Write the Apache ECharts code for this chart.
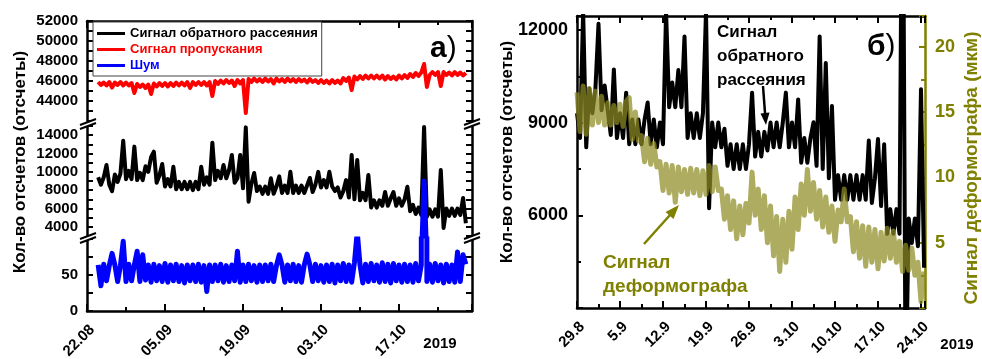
<!DOCTYPE html>
<html>
<head>
<meta charset="utf-8">
<script src="https://cdn.jsdelivr.net/npm/echarts@6/dist/echarts.min.js"></script>
<style>
html, body { margin: 0; padding: 0; background: #fff; }
#chart { width: 982px; height: 359px; }
</style>
</head>
<body>
<div id="chart"></div>
<script>
// ---- данные ----
// левая панель: отсчёты каждые 0.5 сут., начиная с 2 сут. после 22.08
var leftStartDay = 2;
var leftStep = 0.5;
var leftDateLabels = ['22.08', '05.09', '19.09', '03.10', '17.10'];

// Сигнал пропускания
var transmission = [
    45900, 45600, 45850, 45550, 45900, 45350, 45850, 45600, 45900, 45550,
    45850, 45550, 45800, 44800, 45700, 45400, 45650, 45300, 45650, 44700,
    45750, 45450, 45800, 45500, 45800, 45450, 45800, 45500, 45850, 45550,
    45850, 45550, 45900, 45300, 45900, 45600, 45900, 45600, 45900, 45550,
    45900, 44500, 46000, 45700, 46050, 45750, 46100, 45800, 46050, 45500,
    46100, 45750, 46100, 42800, 46200, 45900, 46250, 45950, 46200, 45900,
    46250, 45950, 46200, 45750, 46250, 45950, 46200, 45900, 46250, 45950,
    46200, 45900, 46200, 45950, 46150, 45850, 46200, 45900, 46100, 45800,
    46100, 45800, 46050, 45750, 46100, 45800, 46050, 45750, 46300, 46000,
    46350, 45100, 46450, 46150, 46500, 46200, 46550, 46250, 46550, 46250,
    46550, 46250, 46550, 46150, 46500, 46200, 46450, 46150, 46550, 46250,
    46600, 46300, 46700, 46400, 46800, 46500, 46850, 47700, 45400, 46600,
    46900, 46600, 46900, 45500, 46900, 46600, 46850, 46550, 46900, 46600,
    46850, 46550, 46800
];

// Сигнал обратного рассеяния
var backscatter = [
    9400, 8600, 9400, 10750, 8600, 7900, 9700, 8900, 9800, 13400,
    9200, 10100, 9200, 12750, 9100, 9900, 9100, 10600, 10000, 11600,
    12200, 8800, 9600, 10850, 8400, 9200, 8400, 10560, 8100, 8900,
    8100, 8900, 8100, 8900, 8000, 8900, 8100, 10560, 8600, 9400,
    8600, 13180, 9100, 10100, 9300, 10750, 9300, 10200, 11840, 8800,
    9300, 11840, 8200, 14850, 6740, 8700, 9870, 7900, 8400, 7600,
    8400, 7600, 9300, 7600, 8400, 9500, 7700, 8500, 7700, 10000,
    7700, 8500, 7700, 8500, 7700, 8500, 9330, 7800, 8600, 10000,
    8300, 9100, 8300, 10000, 8400, 7900, 8300, 7200, 7900, 9100,
    7200, 11840, 7000, 11300, 6900, 7700, 6900, 9650, 6100, 6900,
    6100, 6900, 6300, 7800, 6300, 7100, 7800, 6300, 7100, 6300,
    7000, 8380, 5700, 6400, 5400, 6100, 5300, 14900, 5100, 5900,
    5100, 5900, 5100, 10200, 3870, 6000, 5200, 6000, 5200, 6000,
    5300, 7150, 4400
];

// Шум
var noise = [
    64, 35, 65, 42, 63, 80, 64, 41, 63, 97,
    41, 65, 42, 64, 83, 41, 78, 43, 64, 40,
    65, 42, 63, 41, 66, 40, 64, 42, 65, 41,
    63, 39, 64, 42, 64, 41, 65, 40, 63, 27,
    64, 41, 64, 42, 65, 40, 63, 41, 64, 42,
    83, 40, 64, 41, 65, 42, 63, 40, 64, 41,
    64, 42, 65, 41, 63, 78, 64, 40, 64, 42,
    65, 41, 63, 40, 64, 79, 64, 41, 65, 42,
    63, 40, 64, 41, 65, 39, 64, 42, 66, 41,
    64, 40, 67, 110, 64, 39, 65, 41, 66, 42,
    64, 40, 67, 41, 65, 39, 66, 42, 64, 40,
    65, 41, 64, 40, 66, 42, 64, 9000, 41, 65,
    40, 66, 42, 64, 39, 65, 41, 64, 40, 82,
    41, 78, 65
];

// правая панель: отсчёты каждые 0.5 сут., начиная с 29.08
var rightStartDay = 0;
var rightStep = 0.5;
var rightDateLabels = ['29.8', '5.9', '12.9', '19.9', '26.9', '3.10', '10.10', '17.10', '24.10'];

var backscatterZoom = [
    9300, 8500, 12600, 8200, 10100, 9300, 10100, 12200, 9400, 10200,
    9400, 8600, 10720, 8500, 9300, 8500, 9970, 8300, 9100, 8300,
    9100, 8300, 9100, 9650, 8300, 9100, 8200, 9000, 8300, 12600,
    9500, 10300, 9500, 10700, 9500, 11790, 8500, 9300, 8500, 9300,
    8500, 9300, 12600, 6230, 9000, 8200, 9000, 8200, 8800, 7600,
    8300, 7500, 8300, 7500, 8300, 7500, 8300, 9970, 7900, 8700,
    7900, 8700, 8100, 9000, 8200, 9000, 8200, 9000, 9970, 8200,
    9000, 8200, 9750, 7700, 8500, 7700, 8500, 9010, 7600, 11790,
    7500, 10930, 7200, 9540, 6500, 7300, 6500, 7300, 6500, 7300,
    6500, 7300, 6500, 7300, 6500, 8420, 6400, 7200, 8470, 6300,
    8300, 5400, 6200, 5400, 6200, 5400, 20000, 0, 5900, 5100,
    5900, 5000, 10080, 4300
];

// Сигнал деформографа, мкм
var deformograph = [
    16.5, 13.5, 17.0, 13.3, 16.8, 14.0, 16.6, 14.2, 16.2, 14.0,
    15.7, 14.0, 15.5, 14.2, 15.6, 13.9, 15.8, 16.1, 12.9, 15.0,
    12.8, 13.2, 11.2, 13.0, 11.0, 12.6, 10.8, 11.2, 9.0, 11.0,
    8.8, 10.9, 8.1, 10.8, 8.9, 10.6, 8.7, 10.7, 8.8, 10.6,
    8.6, 10.5, 8.7, 10.9, 8.9, 10.8, 9.0, 9.1, 6.8, 8.6,
    6.0, 8.2, 5.3, 7.8, 5.6, 8.0, 6.5, 10.4, 7.1, 9.1,
    6.0, 8.6, 5.0, 7.8, 4.0, 7.0, 2.8, 6.8, 3.5, 7.4,
    4.5, 8.5, 6.0, 9.5, 7.1, 10.6, 7.4, 9.6, 6.8, 9.0,
    6.2, 8.5, 5.8, 7.8, 5.1, 7.5, 6.6, 9.1, 6.6, 7.0,
    4.3, 6.6, 3.8, 6.3, 3.2, 6.2, 3.5, 6.0, 3.0, 5.8,
    3.6, 6.1, 3.8, 5.9, 3.5, 5.1, 2.8, 4.8, 2.9, 4.6,
    2.5, 3.5, 0.5, 2.8
];

////////////////////////////////////////////

var FONT = 'Liberation Sans, Arial, sans-serif';
var OLIVE = '#808000';
var LEFT_MAX = 69.1;
var RIGHT_MAX = 56.65;

function pairs(t0, step, vals) {
    return vals.map(function (v, i) {
        return [t0 + i * step, v];
    });
}

function tick(len, color) {
    return {show: true, inside: true, length: len, lineStyle: {color: color || '#000', width: 2}};
}

function minor(len, color) {
    return {show: true, splitNumber: 2, length: len, lineStyle: {color: color || '#000', width: 2}};
}

function line(color) {
    return {show: true, onZero: false, lineStyle: {color: color || '#000', width: 2.5}};
}

// ось Y (слева с подписями, справа только линия и штрихи)
function yAx(grid, pos, min, max, interval, fmt, size) {
    return {
        type: 'value', gridIndex: grid, position: pos, min: min, max: max, interval: interval,
        axisLine: line(), axisTick: tick(6), splitLine: {show: false},
        axisLabel: fmt ? {
            show: true, interval: 0, margin: 9, color: '#000', fontSize: size || 15,
            fontWeight: 'bold', fontFamily: FONT, formatter: fmt
        } : {show: false}
    };
}

function xAx(grid, pos, max, interval, labels) {
    return {
        type: 'value', gridIndex: grid, position: pos, min: 0, max: max, interval: interval,
        axisLine: line(), axisTick: tick(7), minorTick: minor(4), splitLine: {show: false},
        axisLabel: labels ? {
            show: true, rotate: 45, margin: 11, align: 'right', verticalAlign: 'top',
            color: '#000', fontSize: 15, fontWeight: 'bold', fontFamily: FONT,
            formatter: function (v) { return labels[v / interval] || ''; }
        } : {show: false}
    };
}

// знак разрыва оси "//"
function breakMark(cx, cy) {
    return [
        {type: 'polygon', z: 100, shape: {points: [[cx - 8, cy + 1], [cx + 8, cy - 5], [cx + 8, cy - 1], [cx - 8, cy + 5]]}, style: {fill: '#fff'}},
        {type: 'line', z: 101, shape: {x1: cx - 8, y1: cy + 1, x2: cx + 8, y2: cy - 5}, style: {stroke: '#000', lineWidth: 2}},
        {type: 'line', z: 101, shape: {x1: cx - 8, y1: cy + 5, x2: cx + 8, y2: cy - 1}, style: {stroke: '#000', lineWidth: 2}}
    ];
}

function txt(x, y, text, font, color, opts) {
    var o = {
        type: 'text', z: 100, x: x, y: y,
        style: {
            text: text, font: font, fill: color || '#000',
            align: 'center', verticalAlign: 'middle',
            textAlign: 'center', textVerticalAlign: 'middle'
        }
    };
    if (opts) {
        for (var k in opts) o[k] = opts[k];
    }
    return o;
}

function arrow(x1, y1, x2, y2, head, color) {
    return [
        {type: 'line', z: 100, shape: {x1: x1, y1: y1, x2: x2, y2: y2}, style: {stroke: color, lineWidth: 2.5}},
        {type: 'polygon', z: 100, shape: {points: head}, style: {fill: color}}
    ];
}

function label(x, y, letter) {
    var rich = {
        a: {fontSize: 30, fontWeight: 'bold', fontFamily: FONT, fill: '#000', color: '#000'},
        p: {fontSize: 30, fontWeight: 'normal', fontFamily: FONT, fill: '#000', color: '#000'}
    };
    return {
        type: 'text', z: 100, x: x, y: y,
        style: {
            text: '{a|' + letter + '}{p|)}', align: 'left', verticalAlign: 'middle',
            textAlign: 'left', textVerticalAlign: 'middle', rich: rich
        }
    };
}

var graphics = []
    .concat(breakMark(88, 124), breakMark(472, 124), breakMark(88, 238), breakMark(472, 238))
    .concat(arrow(763, 86, 765, 113, [[766, 125], [769.5, 112.5], [760.5, 113.5]], '#000'))
    .concat(arrow(644, 244, 670, 215, [[679, 205], [673.5, 219], [665.5, 212]], OLIVE))
    .concat([
        txt(20, 162, 'Кол-во отсчетов (отсчеты)', 'bold 17px ' + FONT, '#000', {rotation: Math.PI / 2}),
        txt(507, 152, 'Кол-во отсчетов (отсчеты)', 'bold 17px ' + FONT, '#000', {rotation: Math.PI / 2}),
        txt(972, 168, 'Сигнал деформографа (мкм)', 'bold 19px ' + FONT, OLIVE, {rotation: Math.PI / 2}),
        txt(440, 344, '2019', 'bold 15px ' + FONT),
        txt(957, 345, '2019', 'bold 15px ' + FONT),
        label(430, 49, 'а'),
        label(867, 47, 'б'),
        {
            type: 'text', z: 100, x: 717, y: 20,
            style: {
                text: 'Сигнал\nобратного\nрассеяния', font: 'bold 17px ' + FONT, fill: '#000',
                lineHeight: 24, align: 'left', verticalAlign: 'top', textAlign: 'left', textVerticalAlign: 'top'
            }
        },
        {
            type: 'text', z: 100, x: 603, y: 251,
            style: {
                text: 'Сигнал\nдеформографа', font: 'bold 19px ' + FONT, fill: OLIVE,
                lineHeight: 24, align: 'left', verticalAlign: 'top', textAlign: 'left', textVerticalAlign: 'top'
            }
        }
    ]);

var option = {
    animation: false,
    backgroundColor: '#fff',
    textStyle: {fontFamily: FONT},
    grid: [
        {left: 87, top: 21, width: 385, height: 100, containLabel: false, outerBoundsMode: 'none'},
        {left: 87, top: 126, width: 385, height: 110, containLabel: false, outerBoundsMode: 'none'},
        {left: 87, top: 239, width: 385, height: 72, containLabel: false, outerBoundsMode: 'none'},
        {left: 577, top: 16, width: 348, height: 292, containLabel: false, outerBoundsMode: 'none'}
    ],
    legend: {
        orient: 'vertical', left: 93, top: 22, padding: [5, 4, 4, 4], itemGap: 3,
        itemWidth: 28, itemHeight: 3, icon: 'rect',
        backgroundColor: '#fff', borderColor: '#444', borderWidth: 1,
        textStyle: {fontSize: 13, fontWeight: 'bold', fontFamily: FONT},
        data: [
            {name: 'Сигнал обратного рассеяния', textStyle: {color: '#000'}},
            {name: 'Сигнал пропускания', textStyle: {color: '#ff0000'}},
            {name: 'Шум', textStyle: {color: '#0000ff'}}
        ]
    },
    xAxis: [
        xAx(0, 'top', LEFT_MAX, 14, null),
        {type: 'value', gridIndex: 1, show: false, min: 0, max: LEFT_MAX},
        xAx(2, 'bottom', LEFT_MAX, 14, leftDateLabels),
        xAx(3, 'bottom', RIGHT_MAX, 7, rightDateLabels),
        xAx(3, 'top', RIGHT_MAX, 7, null)
    ],
    yAxis: [
        yAx(0, 'left', 42000, 52000, 1000, function (v) { return (v % 2000 === 0 && v > 42000) ? String(v) : ''; }),
        yAx(0, 'right', 42000, 52000, 1000, null),
        yAx(1, 'left', 3000, 15000, 1000, function (v) { return (v % 2000 === 0 && v > 3000 && v < 15000) ? String(v) : ''; }),
        yAx(1, 'right', 3000, 15000, 1000, null),
        yAx(2, 'left', 0, 100, 25, function (v) { return (v === 0 || v === 50) ? String(v) : ''; }),
        yAx(2, 'right', 0, 100, 25, null),
        (function () {
            var a = yAx(3, 'left', 3000, 12450, 3000, function (v) { return (v % 3000 === 0 && v >= 6000) ? String(v) : ''; }, 18);
            a.minorTick = minor(4);
            return a;
        })(),
        (function () {
            var a = yAx(3, 'right', 0, 22.35, 5, function (v) { return (v > 0 && v % 5 === 0) ? String(v) : ''; }, 18);
            a.axisLine = line(OLIVE);
            a.axisTick = tick(6, OLIVE);
            a.minorTick = minor(4, OLIVE);
            a.axisLabel.color = OLIVE;
            a.axisLabel.margin = 10;
            return a;
        })()
    ],
    series: [
        {
            name: 'Сигнал обратного рассеяния', type: 'line', xAxisIndex: 1, yAxisIndex: 2,
            data: pairs(leftStartDay, leftStep, backscatter), showSymbol: false, symbol: 'none',
            lineStyle: {color: '#000', width: 4, join: 'round'}, itemStyle: {color: '#000'}
        },
        {
            name: 'Сигнал пропускания', type: 'line', xAxisIndex: 0, yAxisIndex: 0,
            data: pairs(leftStartDay, leftStep, transmission), showSymbol: false, symbol: 'none',
            lineStyle: {color: '#ff0000', width: 4, join: 'round'}, itemStyle: {color: '#ff0000'}
        },
        {
            name: 'Шум', type: 'line', xAxisIndex: 1, yAxisIndex: 2,
            data: pairs(leftStartDay, leftStep, noise), showSymbol: false, symbol: 'none',
            lineStyle: {color: '#0000ff', width: 5, join: 'round'}, itemStyle: {color: '#0000ff'}
        },
        {
            name: 'Шум', type: 'line', xAxisIndex: 2, yAxisIndex: 4,
            data: pairs(leftStartDay, leftStep, noise), showSymbol: false, symbol: 'none',
            lineStyle: {color: '#0000ff', width: 5, join: 'round'}, itemStyle: {color: '#0000ff'}
        },
        {
            name: 'обратное рассеяние (б)', type: 'line', xAxisIndex: 3, yAxisIndex: 6,
            data: pairs(rightStartDay, rightStep, backscatterZoom), showSymbol: false, symbol: 'none',
            lineStyle: {color: '#000', width: 4, join: 'round'}, itemStyle: {color: '#000'}
        },
        {
            name: 'деформограф (б)', type: 'line', xAxisIndex: 3, yAxisIndex: 7,
            data: pairs(rightStartDay, rightStep, deformograph), showSymbol: false, symbol: 'none',
            lineStyle: {color: '#8e8c22', width: 5, opacity: 0.72, join: 'round'}, itemStyle: {color: '#8e8c22'}
        }
    ],
    graphic: {elements: graphics}
};

var chart = echarts.init(document.getElementById('chart'), null, {renderer: 'canvas'});
chart.setOption(option);
</script>
</body>
</html>
